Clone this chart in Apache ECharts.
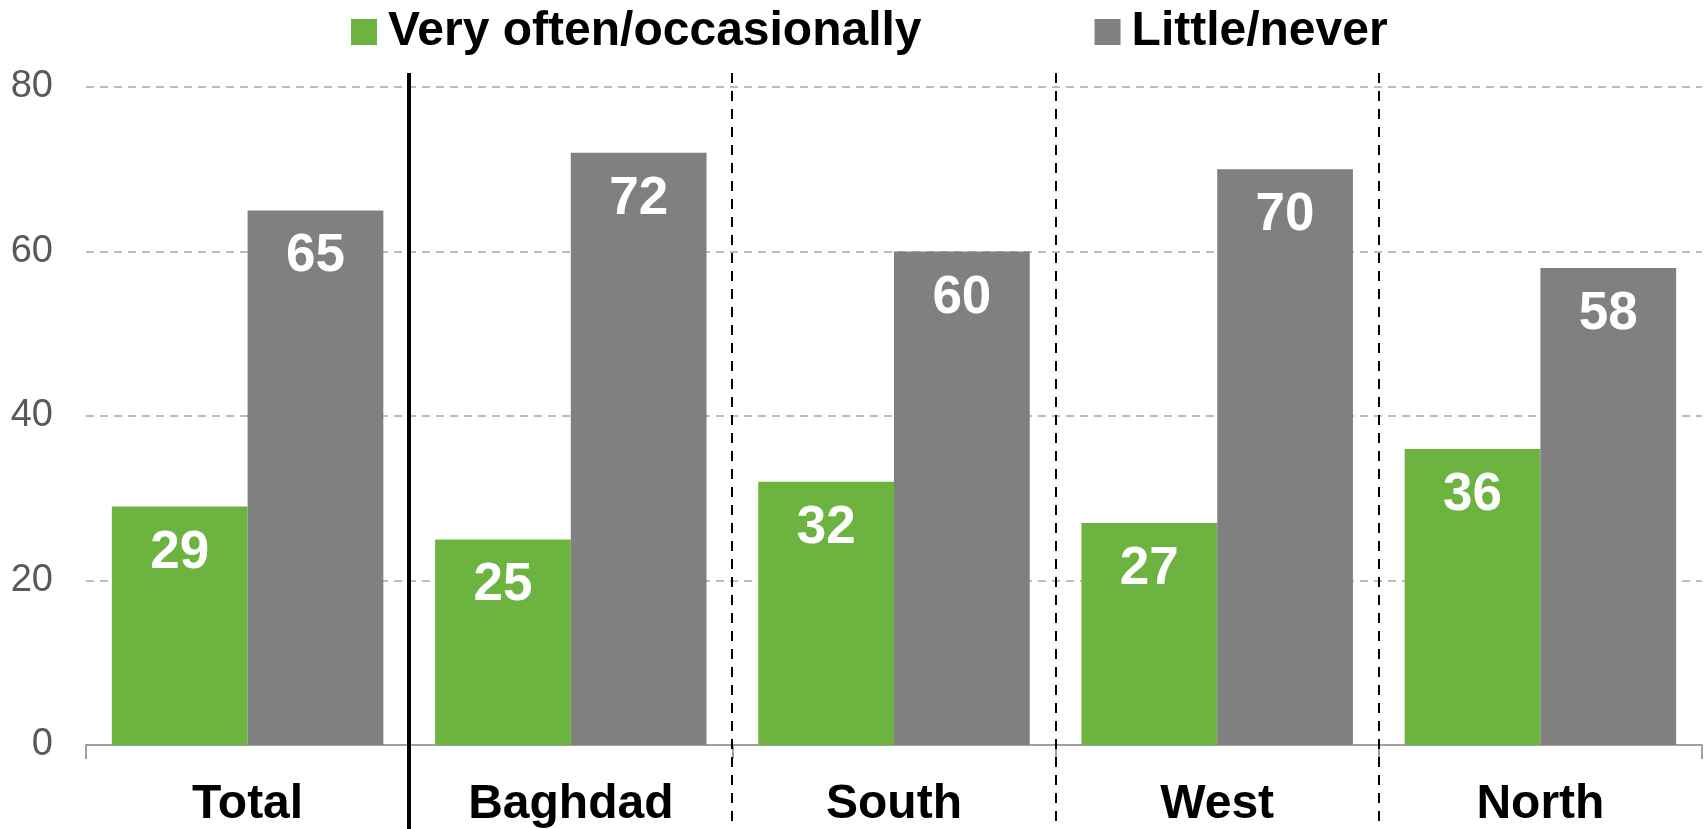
<!DOCTYPE html>
<html>
<head>
<meta charset="utf-8">
<script src="https://cdn.jsdelivr.net/npm/echarts@6/dist/echarts.min.js"></script>
<style>
  html, body { margin: 0; padding: 0; background: #fff; }
  #chart { width: 1704px; height: 829px; }
</style>
</head>
<body>
<div id="chart"></div>
<script>
var categories = ["Total", "Baghdad", "South", "West", "North"];
var oftenValues = [29, 25, 32, 27, 36];
var littleValues = [65, 72, 60, 70, 58];
var seriesNames = ["Very often/occasionally", "Little/never"];

var font = "'Liberation Sans', Arial, sans-serif";
var dom = document.getElementById("chart");
var myChart = echarts.init(dom, null, { renderer: "canvas" });

var barLabel = {
  show: true,
  position: "insideTop",
  distance: 20,
  color: "#fff",
  fontSize: 53,
  fontWeight: "bold",
  fontFamily: font
};

var option = {
  animation: false,
  textStyle: { fontFamily: font },
  legend: {
    top: 3,
    left: 346,
    itemWidth: 26,
    itemHeight: 26,
    itemGap: 173,
    icon: "rect",
    textStyle: { fontSize: 48, fontWeight: "bold", color: "#000", fontFamily: font, padding: [0, 0, 0, 6] },
    data: seriesNames
  },
  grid: { left: 86, right: 2, top: 87, bottom: 81 },
  xAxis: {
    type: "category",
    data: categories,
    axisLine: { lineStyle: { color: "#a0a0a0", width: 2 } },
    axisTick: { show: true, length: 14, lineStyle: { color: "#a0a0a0", width: 2 } },
    axisLabel: { margin: 36, fontSize: 48, fontWeight: "bold", color: "#000", fontFamily: font }
  },
  yAxis: {
    type: "value",
    min: 0,
    max: 80,
    interval: 20,
    axisLine: { show: false },
    axisTick: { show: false },
    axisLabel: { margin: 33, fontSize: 38, color: "#595959", fontFamily: font },
    splitLine: { lineStyle: { color: "#a6a6a6", type: [8, 6], width: 1.5 } }
  },
  series: [
    {
      name: seriesNames[0],
      type: "bar",
      data: oftenValues,
      barGap: "0%",
      barCategoryGap: "16%",
      color: "#6db33f",
      label: barLabel
    },
    {
      name: seriesNames[1],
      type: "bar",
      data: littleValues,
      barGap: "0%",
      barCategoryGap: "16%",
      color: "#808080",
      label: barLabel
    }
  ]
};

myChart.setOption(option);

/* separator lines between categories, taken from the axis */
var step = myChart.convertToPixel({ xAxisIndex: 0 }, 1) - myChart.convertToPixel({ xAxisIndex: 0 }, 0);
var lines = [];
for (var i = 1; i < categories.length; i++) {
  var x = Math.round(myChart.convertToPixel({ xAxisIndex: 0 }, i) - step / 2);
  lines.push({
    type: "line",
    shape: { x1: x, y1: 73, x2: x, y2: 829 },
    z: 10,
    style: i === 1
      ? { stroke: "#000", lineWidth: 4 }
      : { stroke: "#000", lineWidth: 2, lineDash: [10, 8] }
  });
}
myChart.setOption({ graphic: lines });

window.addEventListener("resize", myChart.resize);
</script>
</body>
</html>
